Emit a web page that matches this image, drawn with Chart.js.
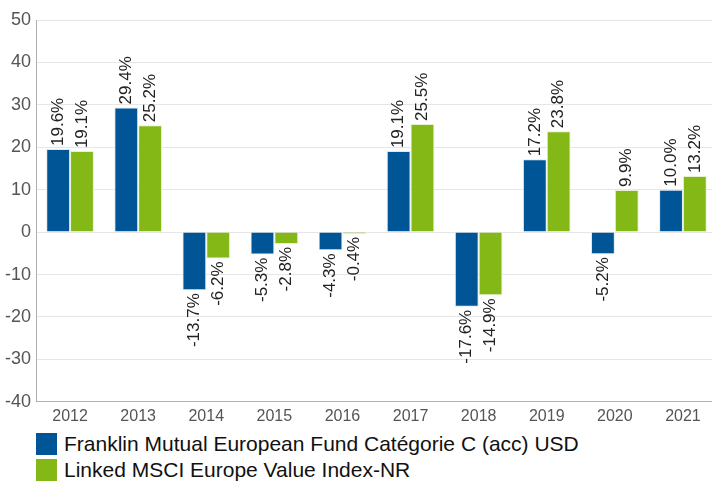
<!DOCTYPE html>
<html>
<head>
<meta charset="utf-8">
<script src="https://cdn.jsdelivr.net/npm/chart.js@4.4.0/dist/chart.umd.min.js"></script>
<style>
  body { margin: 0; background: #fff; font-family: "Liberation Sans", Arial, sans-serif; overflow: hidden; }
  #wrap { position: relative; width: 717px; height: 431px; }
  #legend { margin: 0 0 0 36px; }
  .item { display: flex; align-items: center; height: 26px; font-size: 21px; color: #111; white-space: nowrap; }
  .box { width: 21px; height: 22px; margin-right: 7px; }
</style>
</head>
<body>
<div id="wrap"><canvas id="chart"></canvas></div>
<div id="legend"></div>
<script>
// Jahre und Renditen (%)
const years = ['2012', '2013', '2014', '2015', '2016', '2017', '2018', '2019', '2020', '2021'];
const fundValues = [19.6, 29.4, -13.7, -5.3, -4.3, 19.1, -17.6, 17.2, -5.2, 10.0];
const indexValues = [19.1, 25.2, -6.2, -2.8, -0.4, 25.5, -14.9, 23.8, 9.9, 13.2];
const seriesNames = ['Franklin Mutual European Fund Catégorie C (acc) USD', 'Linked MSCI Europe Value Index-NR'];
const seriesColors = ['#005596', '#84b817'];

// Werte-Labels, gedreht, über/unter den Balken
const barLabels = {
    id: 'barLabels',
    afterDatasetsDraw(chart) {
        const ctx = chart.ctx;
        ctx.save();
        ctx.font = '17px "Liberation Sans", Arial, sans-serif';
        ctx.fillStyle = '#222';
        chart.data.datasets.forEach((ds, i) => {
            chart.getDatasetMeta(i).data.forEach((bar, j) => {
                const v = ds.data[j];
                const txt = v.toFixed(1) + '%';
                ctx.save();
                ctx.translate(bar.x, bar.y);
                ctx.rotate(-Math.PI / 2);
                ctx.textBaseline = 'middle';
                if (v >= 0) {
                    ctx.textAlign = 'left';
                    ctx.fillText(txt, 3, 0);
                } else {
                    ctx.textAlign = 'right';
                    ctx.fillText(txt, -3, 0);
                }
                ctx.restore();
            });
        });
        ctx.restore();
    }
};

new Chart(document.getElementById('chart'), {
    type: 'bar',
    data: {
        labels: years,
        datasets: [
            { label: seriesNames[0], data: fundValues, backgroundColor: seriesColors[0], borderColor: '#dfe8f0', borderWidth: 1 },
            { label: seriesNames[1], data: indexValues, backgroundColor: seriesColors[1], borderColor: '#e6f0d4', borderWidth: 1 }
        ]
    },
    options: {
        responsive: true,
        maintainAspectRatio: false,
        animation: false,
        layout: { padding: { top: 20, right: 0, left: 0, bottom: 0 } },
        datasets: { bar: { categoryPercentage: 0.7, barPercentage: 1.0 } },
        scales: {
            y: {
                min: -40, max: 50,
                ticks: { stepSize: 10, color: '#555', font: { size: 18, family: '"Liberation Sans", Arial, sans-serif' }, padding: 5 },
                grid: { color: '#e6e6e6', drawTicks: false },
                border: { color: '#b0b0b0' }
            },
            x: {
                ticks: { color: '#555', font: { size: 16, family: '"Liberation Sans", Arial, sans-serif' }, padding: 5 },
                grid: { display: false, drawTicks: false },
                border: { color: '#b0b0b0' }
            }
        },
        plugins: {
            legend: { display: false },
            tooltip: { enabled: false }
        }
    },
    plugins: [barLabels]
});

document.getElementById('legend').innerHTML = seriesNames.map((n, i) =>
    `<div class="item"><span class="box" style="background:${seriesColors[i]}"></span>${n}</div>`
).join('');
</script>
</body>
</html>
